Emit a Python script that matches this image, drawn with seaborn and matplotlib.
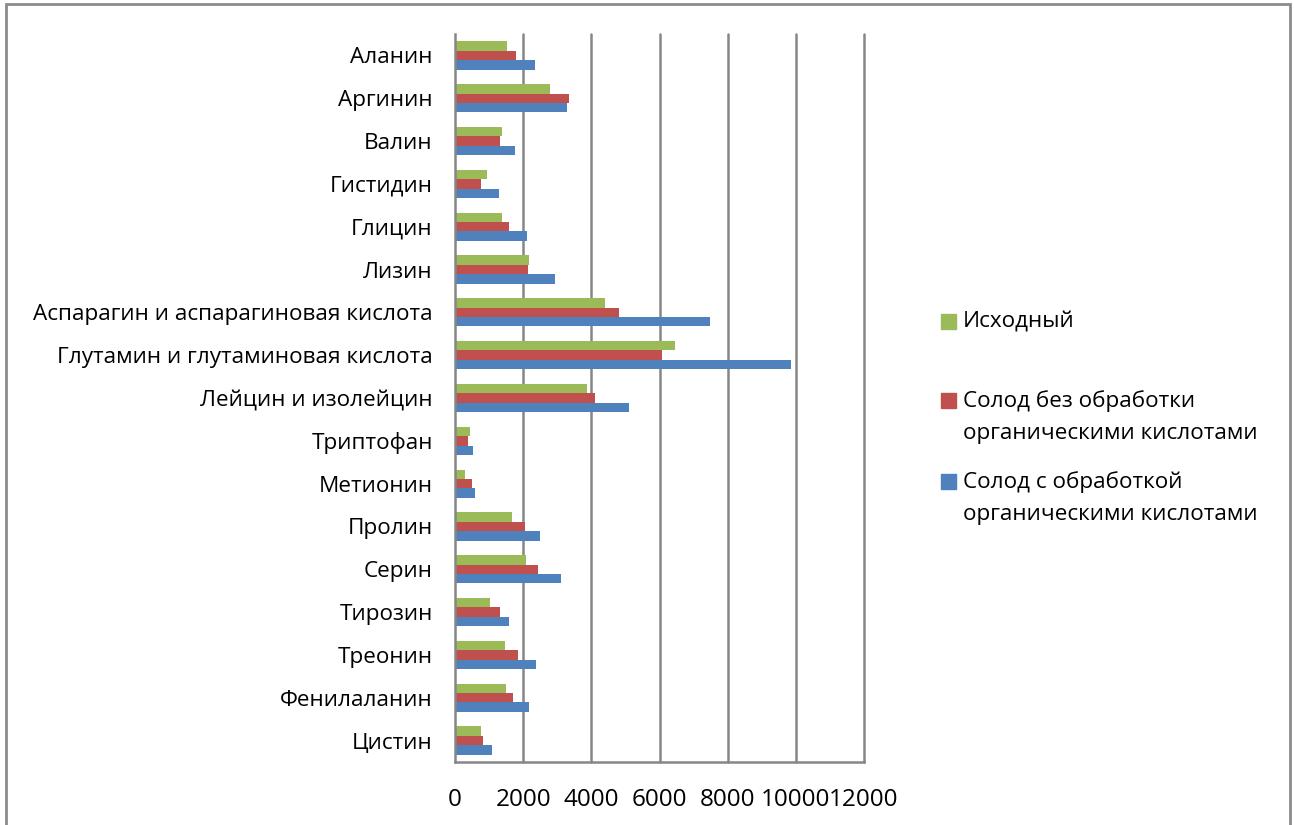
import matplotlib
matplotlib.use("Agg")
import matplotlib.pyplot as plt
from matplotlib.patches import Rectangle
import numpy as np
import pandas as pd
import seaborn as sns

amino_acids = [
    "Аланин", "Аргинин", "Валин", "Гистидин", "Глицин", "Лизин",
    "Аспарагин и аспарагиновая кислота", "Глутамин и глутаминовая кислота",
    "Лейцин и изолейцин", "Триптофан", "Метионин", "Пролин", "Серин",
    "Тирозин", "Треонин", "Фенилаланин", "Цистин",
]
series_names = [
    "Исходный",
    "Солод без обработки органическими кислотами",
    "Солод с обработкой органическими кислотами",
]
legend_labels = [
    "Исходный",
    "Солод без обработки\nорганическими кислотами",
    "Солод с обработкой\nорганическими кислотами",
]
initial = [1540, 2780, 1370, 950, 1370, 2185, 4390, 6450, 3870, 440, 285,
           1675, 2085, 1040, 1480, 1510, 765]
untreated = [1800, 3340, 1330, 775, 1570, 2135, 4810, 6065, 4105, 390, 490,
             2060, 2430, 1310, 1840, 1715, 815]
treated = [2360, 3275, 1775, 1305, 2105, 2920, 7470, 9860, 5095, 520, 590,
           2480, 3115, 1570, 2380, 2185, 1100]
x_ticks = [0, 2000, 4000, 6000, 8000, 10000, 12000]
colors = ["#9BBB59", "#C0504D", "#4F81BD"]

df = pd.DataFrame({
    "acid": amino_acids * 3,
    "series": np.repeat(series_names, len(amino_acids)),
    "value": initial + untreated + treated,
})

sns.set_theme(style="white")
plt.rcParams["font.family"] = ["Open Sans", "DejaVu Sans"]
plt.rcParams["text.color"] = "black"
plt.rcParams["xtick.labelcolor"] = "black"
plt.rcParams["ytick.labelcolor"] = "black"

W, H = 1294, 825
fig = plt.figure(figsize=(W / 100, H / 100), dpi=100)
ax = fig.add_axes([455 / W, 1 - 762 / H, (864 - 455) / W, (762 - 34) / H])

sns.barplot(data=df, y="acid", x="value", hue="series", order=amino_acids,
            hue_order=series_names, palette=colors, orient="h", width=0.66,
            dodge=True, legend=False, ax=ax, saturation=1, linewidth=0)

grid_c = "#868686"
ax.set_xlim(0, 12000)
ax.set_ylim(len(amino_acids) - 0.5, -0.5)
ax.set_xticks(x_ticks)
ax.set_xticklabels([str(t) for t in x_ticks], fontsize=17.5, color="black")
for t in x_ticks[1:]:
    ax.axvline(t, color=grid_c, lw=1.8, zorder=0, clip_on=False)
ax.set_xlabel("")
ax.set_ylabel("")

ax.set_yticks(range(len(amino_acids)))
ax.set_yticklabels(amino_acids, fontsize=16.2, color="black")
ax.tick_params(axis="y", length=0, pad=16)
ax.set_yticks(np.arange(-0.5, len(amino_acids), 1), minor=True)
ax.tick_params(axis="y", which="minor", length=7, width=1.8, color=grid_c, direction="out")
ax.tick_params(axis="x", length=7, width=1.8, color=grid_c, direction="out", pad=12)

for s in ["top", "right"]:
    ax.spines[s].set_visible(False)
for s in ["left", "bottom"]:
    ax.spines[s].set_color(grid_c)
    ax.spines[s].set_linewidth(1.8)

# legend drawn as colour squares beside wrapped labels
legend_y = [321, 400, 481]
for lab, c, y in zip(legend_labels, colors, legend_y):
    fig.patches.append(Rectangle((941 / W, 1 - (y + 8) / H), 15 / W, 15 / H,
                                 transform=fig.transFigure, color=c))
    fig.text(963 / W, 1 - (y - 10) / H, lab, fontsize=16.2, va="top",
             ha="left", linespacing=1.72, color="black",
             transform=fig.transFigure)

# outer chart frame
fig.patches.append(Rectangle((6 / W, -0.05), (1290 - 6) / W, 1 - 4 / H + 0.05,
                             transform=fig.transFigure, fill=False,
                             edgecolor="#8C8C8C", lw=2))

fig.savefig("out.png", dpi=100)
